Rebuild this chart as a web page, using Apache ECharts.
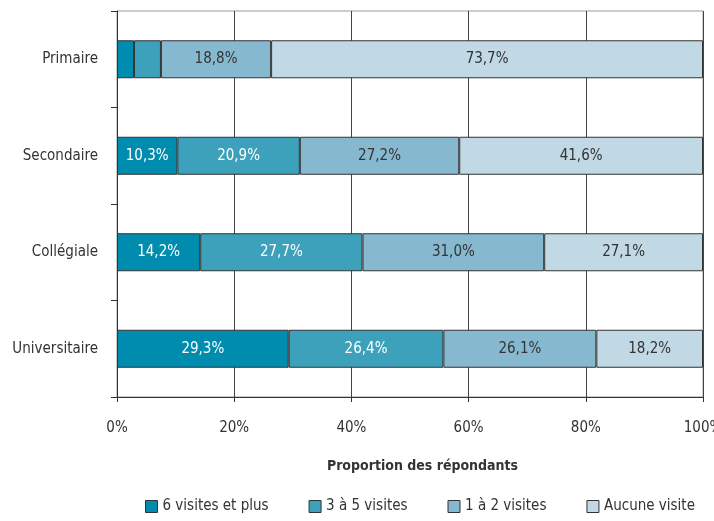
<!DOCTYPE html>
<html>
<head>
<meta charset="utf-8">
<script src="https://cdn.jsdelivr.net/npm/echarts@6/dist/echarts.min.js"></script>
<style>
  html, body { margin: 0; padding: 0; background: #fff; }
  #chart { width: 714px; height: 521px; }
</style>
</head>
<body>
<div id="chart"></div>
<script>
// niveaux de scolarité (de haut en bas)
var categories = ['Primaire', 'Secondaire', 'Collégiale', 'Universitaire'];
var seriesNames = ['6 visites et plus', '3 à 5 visites', '1 à 2 visites', 'Aucune visite'];
var visites6plus = [2.9, 10.3, 14.2, 29.3];
var visites3a5 = [4.6, 20.9, 27.7, 26.4];
var visites1a2 = [18.8, 27.2, 31.0, 26.1];
var aucuneVisite = [73.7, 41.6, 27.1, 18.2];
var xTicks = [0, 20, 40, 60, 80, 100];

var colors = ['#008cae', '#3ea1bb', '#86b9cf', '#c0d9e4'];
var labelColors = ['#ffffff', '#ffffff', '#333333', '#333333'];
var font = "'Liberation Sans Narrow', 'DejaVu Sans Condensed', sans-serif";

var chart = echarts.init(document.getElementById('chart'));

var allData = [visites6plus, visites3a5, visites1a2, aucuneVisite];
var series = allData.map(function (d, i) {
    return {
        name: seriesNames[i],
        type: 'bar',
        stack: 'total',
        barWidth: 38,
        data: d,
        itemStyle: { color: colors[i], borderColor: '#333', borderWidth: 1 },
        label: {
            show: true,
            position: 'inside',
            color: labelColors[i],
            fontFamily: font,
            fontSize: 15,
            formatter: function (p) {
                if (p.value < 5) return '';
                return p.value.toFixed(1).replace('.', ',') + '%';
            }
        },
        emphasis: { disabled: true }
    };
});

chart.setOption({
    animation: false,
    textStyle: { fontFamily: font },
    grid: {
        left: 117, right: 11, top: 11, bottom: 124,
        outerBoundsMode: 'none',
        show: true, borderColor: '#999', borderWidth: 1
    },
    legend: {
        bottom: 2,
        left: 140,
        width: 620,
        itemWidth: 12,
        itemHeight: 12,
        itemGap: 40,
        icon: 'rect',
        textStyle: { fontFamily: font, fontSize: 15, color: '#333' },
        data: seriesNames.map(function (n, i) {
            return { name: n, itemStyle: { color: colors[i], borderColor: '#333', borderWidth: 1 } };
        })
    },
    xAxis: {
        type: 'value',
        min: xTicks[0],
        max: xTicks[xTicks.length - 1],
        interval: 20,
        name: 'Proportion des répondants',
        nameLocation: 'middle',
        nameGap: 62,
        nameTextStyle: { fontFamily: font, fontSize: 14, fontWeight: 'bold', color: '#333', padding: [0, 0, 0, 25] },
        axisLine: { show: true, lineStyle: { color: '#333' } },
        axisTick: { show: true, length: 5, lineStyle: { color: '#333' } },
        axisLabel: { margin: 24, fontSize: 15, color: '#333', formatter: '{value}%' },
        splitLine: { show: true, lineStyle: { color: '#444', width: 1 } }
    },
    yAxis: {
        type: 'category',
        inverse: true,
        data: categories,
        axisLine: { show: true, lineStyle: { color: '#333' } },
        axisTick: { show: true, length: 6, lineStyle: { color: '#333' } },
        axisLabel: { margin: 19, fontSize: 15, color: '#333' },
        splitLine: { show: false }
    },
    series: series
});
</script>
</body>
</html>
